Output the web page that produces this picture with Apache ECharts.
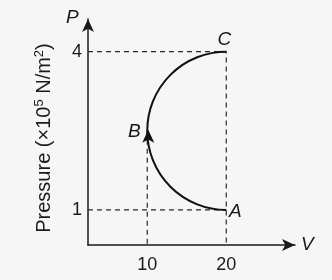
<!DOCTYPE html>
<html><head><meta charset="utf-8">
<script src="https://cdn.jsdelivr.net/npm/echarts@6/dist/echarts.min.js"></script>
<style>html,body{margin:0;padding:0;background:#f6f6f6}#c{width:332px;height:280px}</style>
</head><body><div id="c"></div>
<script>
// Data
var xTicks = [10, 20];
var yTicks = [1, 4];
var xRange = [2.5, 28.7];
var yRange = [0.335, 4.62];
var pointNames = ['A', 'B', 'C'];
var pointV = [20, 10, 20];
var pointP = [1, 2.5, 4];

var A = [pointV[0], pointP[0]], B = [pointV[1], pointP[1]], C = [pointV[2], pointP[2]];
var FONT = 'Liberation Sans, Arial, sans-serif';
var INK = '#1a1a1a';

var chart = echarts.init(document.getElementById('c'));
var dash = { color: '#2a2a2a', width: 1.2, type: [5, 4] };
chart.setOption({
  backgroundColor: '#f6f6f6',
  animation: false,
  grid: { left: 88, right: 37, top: 19, bottom: 35 },
  xAxis: {
    type: 'value', min: xRange[0], max: xRange[1],
    name: 'V', nameLocation: 'end', nameGap: 6,
    nameTextStyle: { fontFamily: FONT, fontSize: 19, fontStyle: 'italic', color: INK, verticalAlign: 'middle' },
    axisLine: { lineStyle: { color: INK, width: 1.5 }, symbol: ['none', 'arrow'], symbolSize: [9, 13] },
    axisTick: { show: false },
    splitLine: { show: false },
    axisLabel: { customValues: xTicks, margin: 11, fontFamily: FONT, fontSize: 18, color: INK }
  },
  yAxis: {
    type: 'value', min: yRange[0], max: yRange[1],
    name: 'Pressure (×10{s|5} N/m{s|2})', nameLocation: 'middle', nameGap: 33, nameRotate: 90,
    nameTextStyle: { fontFamily: FONT, fontSize: 20, color: INK, lineHeight: 22, padding: [0, 12, 0, 0],
      rich: { s: { fontFamily: FONT, fontSize: 13, color: INK, verticalAlign: 'top', lineHeight: 13 } } },
    axisLine: { show: true, lineStyle: { color: INK, width: 1.5 }, symbol: ['none', 'arrow'], symbolSize: [9, 13] },
    axisTick: { show: false },
    splitLine: { show: false },
    axisLabel: { customValues: yTicks, margin: 6, fontFamily: FONT, fontSize: 18, color: INK }
  },
  graphic: [{ type: 'text', left: 66, top: 8, style: { text: 'P', font: 'italic 19px ' + FONT, fill: INK } }],
  series: [
    { type: 'line', data: [[xRange[0], C[1]], [C[0], C[1]], [C[0], yRange[0]]], symbol: 'none', lineStyle: dash, z: 1 },
    { type: 'line', data: [[xRange[0], A[1]], [A[0], A[1]]], symbol: 'none', lineStyle: dash, z: 1 },
    { type: 'line', data: [[B[0], B[1]], [B[0], yRange[0]]], symbol: 'none', lineStyle: dash, z: 1 },
    {
      type: 'custom', z: 3,
      data: [[A[0], A[1], B[0], B[1], C[0], C[1]]],
      renderItem: function (params, api) {
        var pa = api.coord([api.value(0), api.value(1)]);
        var pb = api.coord([api.value(2), api.value(3)]);
        var pc = api.coord([api.value(4), api.value(5)]);
        var rx = Math.abs(pa[0] - pb[0]);
        var ry = Math.abs(pa[1] - pc[1]) / 2;
        var d = 'M' + pa[0] + ' ' + pa[1] + ' A' + rx + ' ' + ry + ' 0 0 1 ' + pc[0] + ' ' + pc[1];
        return { type: 'path', shape: { pathData: d }, style: { stroke: '#111', lineWidth: 2, fill: null } };
      }
    },
    {
      type: 'scatter', z: 4, symbol: 'arrow', symbolSize: [9, 13], symbolOffset: [1, -1],
      itemStyle: { color: '#111', opacity: 1 },
      data: [[B[0], B[1]]]
    },
    {
      type: 'scatter', z: 5, symbolSize: 0,
      itemStyle: { opacity: 1 },
      data: pointNames.map(function (n, i) { return { name: n, value: [pointV[i], pointP[i]] }; }),
      label: {
        show: true, formatter: '{b}', fontFamily: FONT, fontSize: 19, fontStyle: 'italic', color: INK
      },
      labelLayout: function (p) {
        var n = pointNames[p.dataIndex];
        if (n === 'A') return { dx: 9, dy: 2 };
        if (n === 'B') return { dx: -13, dy: 1 };
        return { dx: -2, dy: -12 };
      }
    }
  ]
});
</script></body></html>
